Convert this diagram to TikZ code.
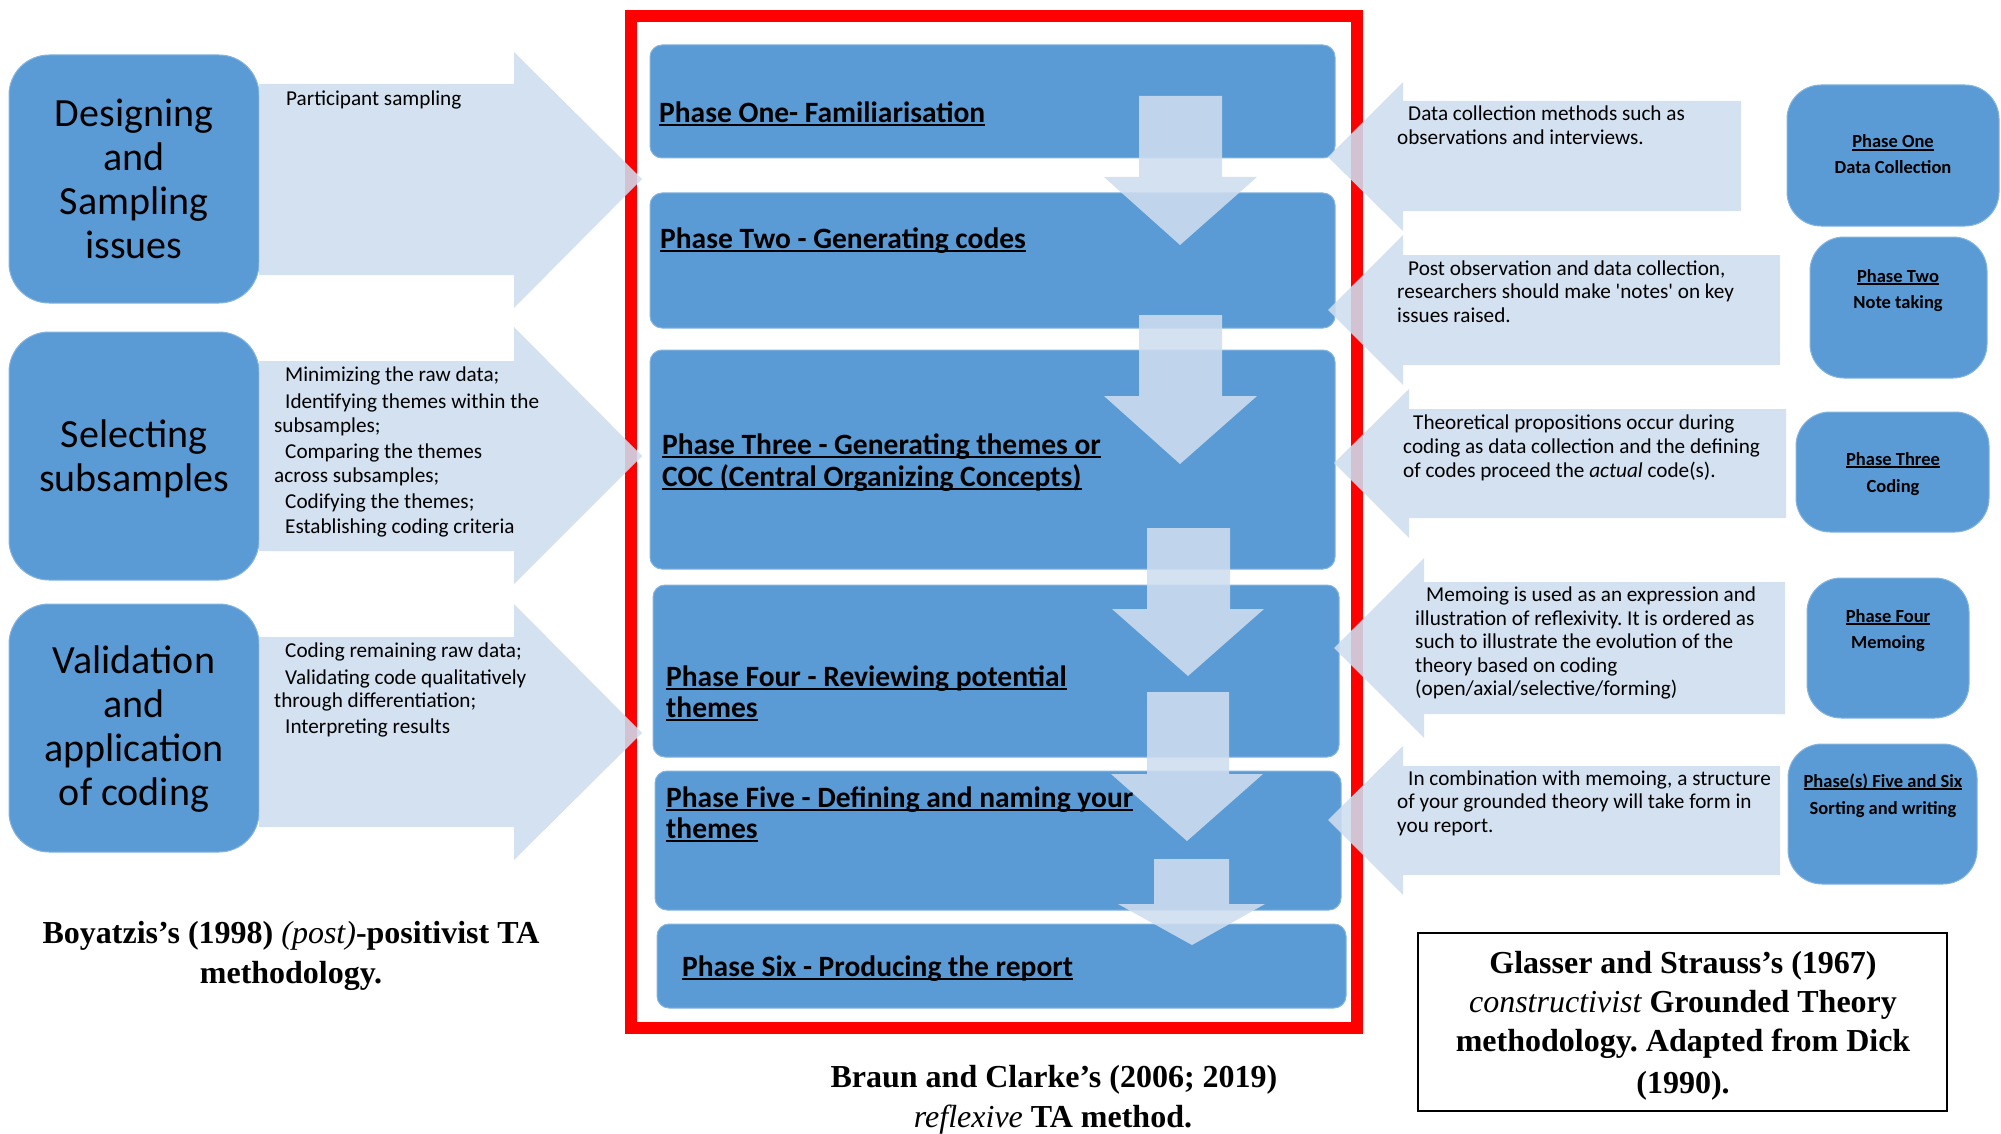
\documentclass[tikz,border=0pt]{standalone}
\usepackage{fontspec}
\setmainfont{Carlito}
\newfontfamily\captionserif{Liberation Serif}
\usetikzlibrary{fit}
\definecolor{boxblue}{HTML}{5B9BD5}
\definecolor{arrowblue}{RGB}{206,221,239}
\definecolor{framered}{HTML}{FF0000}
\frenchspacing

% underline at a fixed depth: #1 depth, #2 thickness, #3 text
\newsavebox\ulbox
\newcommand\myul[3]{\sbox\ulbox{#3}\rlap{\rule[-#1]{\wd\ulbox}{#2}}\usebox\ulbox}

% horizontal block arrow: body end x, body top, body bottom, head x, head top, head bottom, tip x, tip y
\newcommand\blockarrowh[8]{\fill[blockarrow] (#1,#2) -- (#4,#2) -- (#4,#5) -- (#7,#8) -- (#4,#6) -- (#4,#3) -- (#1,#3) -- cycle;}
% downward block arrow: shaft left, shaft right, top, head base, head left, head right, tip x, tip y
\newcommand\downpointer[8]{\fill[blockarrow] (#1,#3) -- (#2,#3) -- (#2,#4) -- (#6,#4) -- (#7,#8) -- (#5,#4) -- (#1,#4) -- cycle;}

\tikzset{
  lbox/.style={fill=boxblue, draw=boxblue!75!white, line width=1, rounded corners=40, inner sep=0},
  pbox/.style={fill=boxblue, draw=boxblue!75!white, line width=1, rounded corners=12, inner sep=0},
  rbox/.style={fill=boxblue, draw=boxblue!75!white, line width=1, rounded corners=34, inner sep=0},
  bigtxt/.style={font=\fontsize{40}{44}\selectfont, align=center, inner sep=0},
  note/.style={anchor=base west, inner sep=0, font=\fontsize{21.2}{24}\selectfont},
  phase/.style={anchor=base west, inner sep=0, font=\fontsize{29.5}{32}\selectfont\bfseries},
  rtxt/.style={anchor=base, inner sep=0, font=\fontsize{18.5}{26}\selectfont\bfseries},
  captxt/.style={anchor=base, inner sep=0, font=\fontsize{32}{40}\selectfont\captionserif\bfseries},
  blockarrow/.style={fill=arrowblue, fill opacity=0.88},
}

\begin{document}
\begin{tikzpicture}[x=1pt,y=-1pt]
\useasboundingbox (0,0) rectangle (2001,1134);
\fill[white] (0,0) rectangle (2001,1134);

% ---- left column: Boyatzis stages ----
\node[lbox, fit={(9,55) (259,303)}] (b1) {};
\node[lbox, fit={(9,332) (259,580)}] (b2) {};
\node[lbox, fit={(9,604) (259,852)}] (b3) {};

% ---- centre column: six phases ----
\node[pbox, fit={(650,45) (1335,158)}] (p1) {};
\node[pbox, fit={(650,193) (1335,328)}] (p2) {};
\node[pbox, fit={(650,350) (1335,569)}] (p3) {};
\node[pbox, fit={(653,585) (1339,757)}] (p4) {};
\node[pbox, fit={(655,771) (1341,910)}] (p5) {};
\node[pbox, fit={(657,924) (1346,1008)}] (p6) {};

% ---- right column: grounded theory phases ----
\node[rbox, fit={(1787,85) (1999,226)}] (r1) {};
\node[rbox, fit={(1810,237) (1987,378)}] (r2) {};
\node[rbox, fit={(1796,412) (1989,532)}] (r3) {};
\node[rbox, fit={(1807,578) (1969,718)}] (r4) {};
\node[rbox, fit={(1788,744) (1977,884)}] (r5) {};

% frame round the reflexive TA phases
\draw[framered, line width=12] (631,16) rectangle (1357,1028);

% arrows pointing into the frame from the left
\blockarrowh{259}{84}{275}{514}{52}{308}{642}{179}
\blockarrowh{259}{361}{551}{514}{327}{584}{642}{456}
\blockarrowh{259}{637}{827}{514}{604}{860}{642}{733}

% arrows pointing into the frame from the right
\blockarrowh{1741}{101}{211}{1403}{82}{231}{1328}{157}
\blockarrowh{1780}{255}{365}{1403}{235}{385}{1328}{310}
\blockarrowh{1786}{409}{518}{1409}{389}{538}{1334}{463}
\blockarrowh{1785}{582}{714}{1424}{558}{738}{1334}{648}
\blockarrowh{1780}{766}{875}{1403}{746}{895}{1328}{820}

% downward flow between phases
\downpointer{1139}{1222}{96}{177}{1104}{1257}{1180}{245}
\downpointer{1139}{1222}{315}{396}{1104}{1257}{1180}{464}
\downpointer{1147}{1230}{528}{609}{1112}{1264}{1188}{676}
\downpointer{1147}{1229}{692}{774}{1111}{1263}{1187}{841}
\downpointer{1154}{1229}{859}{904}{1118}{1265}{1192}{945}

% ---- left box texts ----
\node[bigtxt] (b1t) at (134,179) {Designing\\and\\Sampling\\issues};
\node[bigtxt] (b2t) at (134,459) {Selecting\\subsamples};
\node[bigtxt] (b3t) at (134,729) {Validation\\and\\application\\of coding};

% ---- left arrow notes ----
\node[note] (n1a) at (286,106) {Participant sampling};

\node[note] (n2a) at (285,381) {Minimizing the raw data;};
\node[note] (n2b) at (285,408) {Identifying themes within the};
\node[note] (n2c) at (274,432) {subsamples;};
\node[note] (n2d) at (285,458) {Comparing the themes};
\node[note] (n2e) at (274,482) {across subsamples;};
\node[note] (n2f) at (285,508) {Codifying the themes;};
\node[note] (n2g) at (285,533) {Establishing coding criteria};

\node[note] (n3a) at (285,657) {Coding remaining raw data;};
\node[note] (n3b) at (285,684) {Validating code qualitatively};
\node[note] (n3c) at (274,707) {through differentiation;};
\node[note] (n3d) at (285,733) {Interpreting results};

% ---- phase titles ----
\node[phase] (p1t) at (659,123) {\myul{3.5pt}{2pt}{Phase One- Familiarisation}};
\node[phase] (p2t) at (660,248) {\myul{3.5pt}{2pt}{Phase Two - Generating codes}};
\node[phase] (p3t) at (662,454) {\myul{3.5pt}{2pt}{Phase Three - Generating themes or}};
\node[phase] (p3u) at (662,486) {\myul{3.5pt}{2pt}{COC (Central Organizing Concepts)}};
\node[phase] (p4t) at (666,686) {\myul{3.5pt}{2pt}{Phase Four - Reviewing potential}};
\node[phase] (p4u) at (666,717) {\myul{3.5pt}{2pt}{themes}};
\node[phase] (p5t) at (666,807) {\myul{3.5pt}{2pt}{Phase Five - Defining and naming your}};
\node[phase] (p5u) at (666,838) {\myul{3.5pt}{2pt}{themes}};
\node[phase] (p6t) at (682,976) {\myul{3.5pt}{2pt}{Phase Six - Producing the report}};

% ---- right arrow notes ----
\node[note] (m1a) at (1408,121) {Data collection methods such as};
\node[note] (m1b) at (1397,145) {observations and interviews.};

\node[note] (m2a) at (1408,275) {Post observation and data collection,};
\node[note] (m2b) at (1397,298) {researchers should make \textquotesingle notes\textquotesingle{} on key};
\node[note] (m2c) at (1397,322) {issues raised.};

\node[note] (m3a) at (1413,429) {Theoretical propositions occur during};
\node[note] (m3b) at (1403,453) {coding as data collection and the defining};
\node[note] (m3c) at (1403,477) {of codes proceed the \textit{actual} code(s).};

\node[note] (m4a) at (1426,601) {Memoing is used as an expression and};
\node[note] (m4b) at (1415,625) {illustration of reflexivity. It is ordered as};
\node[note] (m4c) at (1415,648) {such to illustrate the evolution of the};
\node[note] (m4d) at (1415,672) {theory based on coding};
\node[note] (m4e) at (1415,695) {(open/axial/selective/forming)};

\node[note] (m5a) at (1408,785) {In combination with memoing, a structure};
\node[note] (m5b) at (1397,808) {of your grounded theory will take form in};
\node[note] (m5c) at (1397,832) {you report.};

% ---- right box texts ----
\node[rtxt] (r1a) at (1893,148) {\myul{2.6pt}{1.4pt}{Phase One}};
\node[rtxt] (r1b) at (1893,174) {Data Collection};
\node[rtxt] (r2a) at (1898,282) {\myul{2.6pt}{1.4pt}{Phase Two}};
\node[rtxt] (r2b) at (1898,308) {Note taking};
\node[rtxt] (r3a) at (1893,465) {\myul{2.6pt}{1.4pt}{Phase Three}};
\node[rtxt] (r3b) at (1893,492) {Coding};
\node[rtxt] (r4a) at (1888,622) {\myul{2.6pt}{1.4pt}{Phase Four}};
\node[rtxt] (r4b) at (1888,648) {Memoing};
\node[rtxt] (r5a) at (1883,787) {\myul{2.6pt}{1.4pt}{Phase(s) Five and Six}};
\node[rtxt] (r5b) at (1883,814) {Sorting and writing};

% ---- captions ----
\node[captxt] (cl1) at (291,943) {Boyatzis’s (1998) {\mdseries\itshape (post)}-positivist TA};
\node[captxt] (cl2) at (291,983) {methodology.};

\node[captxt] (cc1) at (1054,1087) {Braun and Clarke’s (2006; 2019)};
\node[captxt] (cc2) at (1053,1127) {{\mdseries\itshape reflexive} TA method.};

\node[draw=black, line width=2, inner sep=0, fit={(1418,933) (1947,1111)}] (gbox) {};
\node[captxt] (cr1) at (1683,973) {Glasser and Strauss’s (1967)};
\node[captxt] (cr2) at (1683,1012) {{\mdseries\itshape constructivist} Grounded Theory};
\node[captxt] (cr3) at (1683,1051) {methodology. Adapted from Dick};
\node[captxt] (cr4) at (1683,1093) {(1990).};
\end{tikzpicture}
\end{document}
